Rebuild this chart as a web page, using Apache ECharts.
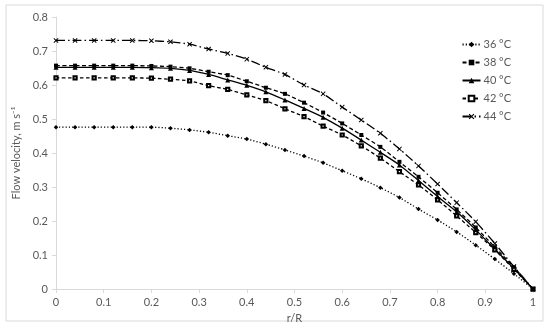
<!DOCTYPE html>
<html>
<head>
<meta charset="utf-8">
<script src="https://cdn.jsdelivr.net/npm/echarts@6/dist/echarts.min.js"></script>
<style>html,body{margin:0;padding:0;background:#fff}#c{width:550px;height:331px}</style>
</head>
<body>
<div id="c"></div>
<script>
const rValues = [0,0.04,0.08,0.12,0.16,0.2,0.24,0.28,0.32,0.36,0.4,0.44,0.48,0.52,0.56,0.6,0.64,0.68,0.72,0.76,0.8,0.84,0.88,0.92,0.96,1];
const v36 = [0.476,0.476,0.476,0.476,0.476,0.476,0.473,0.468,0.461,0.451,0.441,0.426,0.409,0.391,0.371,0.348,0.324,0.298,0.269,0.235,0.203,0.168,0.129,0.088,0.045,0];
const v38 = [0.657,0.657,0.657,0.657,0.657,0.656,0.654,0.649,0.639,0.629,0.611,0.592,0.574,0.548,0.519,0.487,0.453,0.418,0.374,0.330,0.283,0.234,0.181,0.123,0.064,0];
const v40 = [0.652,0.652,0.652,0.652,0.652,0.651,0.649,0.643,0.631,0.615,0.599,0.580,0.556,0.531,0.505,0.473,0.438,0.402,0.365,0.319,0.272,0.227,0.174,0.117,0.060,0];
const v42 = [0.621,0.621,0.621,0.621,0.621,0.620,0.617,0.612,0.598,0.587,0.571,0.554,0.530,0.507,0.479,0.453,0.421,0.385,0.345,0.306,0.262,0.215,0.166,0.115,0.058,0];
const v44 = [0.731,0.731,0.731,0.731,0.731,0.730,0.727,0.720,0.706,0.693,0.676,0.652,0.631,0.600,0.574,0.535,0.497,0.458,0.412,0.362,0.309,0.254,0.198,0.134,0.066,0];
const seriesNames = ['36 °C','38 °C','40 °C','42 °C','44 °C'];
const xTicks = ['0','0.1','0.2','0.3','0.4','0.5','0.6','0.7','0.8','0.9','1'];
const yTicks = ['0','0.1','0.2','0.3','0.4','0.5','0.6','0.7','0.8'];

const xMark = 'path://M0,1.4L1.4,0L5,3.6L8.6,0L10,1.4L6.4,5L10,8.6L8.6,10L5,6.4L1.4,10L0,8.6L3.6,5Z';
const styles = [
  {sym:'diamond', size:4.5, type:[1.2,2]},
  {sym:'rect', size:4, type:[4,2.5]},
  {sym:'triangle', size:5, type:'solid'},
  {sym:'emptyRect', size:3.2, type:[3.5,2.5]},
  {sym:xMark, size:5, type:[9,3,1.5,3]}
];
const vals = [v36,v38,v40,v42,v44];
const font = 'Lato, "Liberation Sans", sans-serif';
const chart = echarts.init(document.getElementById('c'), null, {renderer:'canvas'});
chart.setOption({
  animation:false,
  backgroundColor:'#fff',
  graphic:[{type:'rect', shape:{x:6,y:5,width:537,height:316}, style:{fill:'none', stroke:'#d9d9d9', lineWidth:1}, silent:true, z:-1}],
  grid:{left:56,right:17,top:17,bottom:42},
  legend:{
    orient:'vertical', right:34, top:34, itemGap:7, itemWidth:18, itemHeight:7,
    textStyle:{color:'#595959', fontSize:11, fontFamily:font, padding:[0,0,0,-2]},
    data:seriesNames
  },
  xAxis:{
    type:'value', min:0, max:1, interval:0.1,
    name:'r/R', nameLocation:'middle', nameGap:20,
    nameTextStyle:{color:'#595959', fontSize:11, fontFamily:font},
    axisLine:{lineStyle:{color:'#d9d9d9'}},
    axisTick:{show:true, length:4, lineStyle:{color:'#d9d9d9'}},
    axisLabel:{color:'#595959', fontSize:11, fontFamily:font, margin:8,
      formatter:(v)=>xTicks[Math.round(v*10)]},
    splitLine:{show:false}
  },
  yAxis:{
    type:'value', min:0, max:0.8, interval:0.1,
    name:'Flow velocity, m s\u207B\u00B9', nameLocation:'middle', nameGap:27,
    nameTextStyle:{color:'#595959', fontSize:11, fontFamily:font},
    axisLine:{show:true, lineStyle:{color:'#d9d9d9'}},
    axisTick:{show:true, length:4, lineStyle:{color:'#d9d9d9'}},
    axisLabel:{color:'#595959', fontSize:11, fontFamily:font, margin:8,
      formatter:(v)=>yTicks[Math.round(v*10)]},
    splitLine:{show:false}
  },
  series: seriesNames.map((n,i)=>({
    name:n, type:'line', smooth:0.2,
    data: rValues.map((r,j)=>[r, vals[i][j]]),
    symbol: styles[i].sym, symbolSize: styles[i].size, showSymbol:true,
    lineStyle:{color:'#000', width:1.3, type:styles[i].type},
    itemStyle:{color:'#000', borderColor:'#000', borderWidth: i===3?1:0}
  }))
});
</script>
</body>
</html>
